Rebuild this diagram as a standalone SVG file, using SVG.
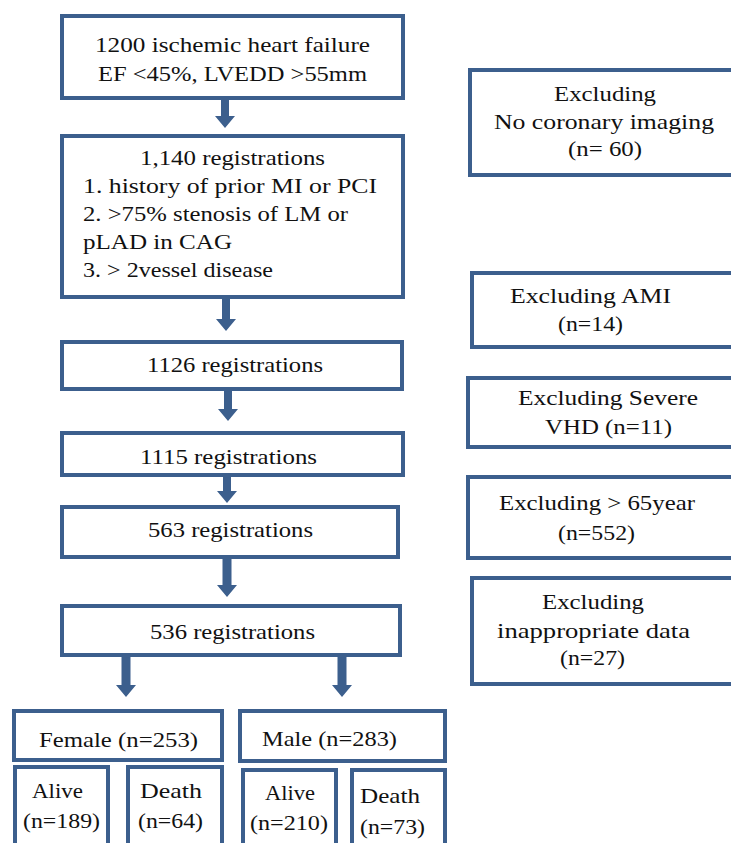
<svg xmlns="http://www.w3.org/2000/svg" width="731" height="843" viewBox="0 0 731 843">
<style>
.box{fill:#ffffff;stroke:#3c5f8d;stroke-width:4;}
.arr{fill:#3c5f8d;stroke:none;}
.t{font-family:'Liberation Serif','DejaVu Serif',serif;font-size:21px;fill:#111111;}
</style>
<rect width="731" height="843" fill="#ffffff"/>
<g id="connectors">
<path class="arr" d="M221,98 H229 V116 H235 L225,128 L215,116 H221 Z"/>
<path class="arr" d="M222,297 H230 V319 H236 L226,331 L216,319 H222 Z"/>
<path class="arr" d="M224,389 H232 V409 H238 L228,421 L218,409 H224 Z"/>
<path class="arr" d="M223,475 H231 V491 H237 L227,503 L217,491 H223 Z"/>
<path class="arr" d="M222.5,557 H231.5 V585 H237 L227,597 L217,585 H222.5 Z"/>
<path class="arr" d="M121.5,655 H130.5 V685 H136 L126,697 L116,685 H121.5 Z"/>
<path class="arr" d="M337.5,655 H346.5 V685 H352 L342,697 L332,685 H337.5 Z"/>
</g>
<g id="n1">
<rect class="box" x="62" y="16" width="341" height="82"/>
<text class="t" x="95" y="52" textLength="275" lengthAdjust="spacingAndGlyphs">1200 ischemic heart failure</text>
<text class="t" x="98" y="81" textLength="269" lengthAdjust="spacingAndGlyphs">EF &lt;45%, LVEDD &gt;55mm</text>
</g>
<g id="n2">
<rect class="box" x="62" y="136" width="341" height="161"/>
<text class="t" x="140" y="165" textLength="185" lengthAdjust="spacingAndGlyphs">1,140 registrations</text>
<text class="t" x="83" y="193" textLength="294" lengthAdjust="spacingAndGlyphs">1. history of prior MI or PCI</text>
<text class="t" x="83" y="221" textLength="265" lengthAdjust="spacingAndGlyphs">2. &gt;75% stenosis of LM or</text>
<text class="t" x="83" y="249" textLength="149" lengthAdjust="spacingAndGlyphs">pLAD in CAG</text>
<text class="t" x="83" y="277" textLength="190" lengthAdjust="spacingAndGlyphs">3. &gt; 2vessel disease</text>
</g>
<g id="n3">
<rect class="box" x="62" y="342" width="340" height="47"/>
<text class="t" x="147" y="372" textLength="176" lengthAdjust="spacingAndGlyphs">1126 registrations</text>
</g>
<g id="n4">
<rect class="box" x="62" y="433" width="341" height="42"/>
<text class="t" x="140" y="464" textLength="177" lengthAdjust="spacingAndGlyphs">1115 registrations</text>
</g>
<g id="n5">
<rect class="box" x="62" y="507" width="336" height="50"/>
<text class="t" x="148" y="537" textLength="165" lengthAdjust="spacingAndGlyphs">563 registrations</text>
</g>
<g id="n6">
<rect class="box" x="62" y="606" width="338" height="49"/>
<text class="t" x="150" y="639" textLength="165" lengthAdjust="spacingAndGlyphs">536 registrations</text>
</g>
<g id="female">
<rect class="box" x="14" y="711" width="208" height="49"/>
<text class="t" x="39" y="747" textLength="159" lengthAdjust="spacingAndGlyphs">Female (n=253)</text>
</g>
<g id="male">
<rect class="box" x="240" y="711" width="205" height="50"/>
<text class="t" x="262" y="746" textLength="135" lengthAdjust="spacingAndGlyphs">Male (n=283)</text>
</g>
<g id="female-alive">
<rect class="box" x="15" y="767" width="93" height="100"/>
<text class="t" x="32" y="798" textLength="51" lengthAdjust="spacingAndGlyphs">Alive</text>
<text class="t" x="23" y="828" textLength="77" lengthAdjust="spacingAndGlyphs">(n=189)</text>
</g>
<g id="female-death">
<rect class="box" x="128" y="767" width="94" height="100"/>
<text class="t" x="140" y="798" textLength="62" lengthAdjust="spacingAndGlyphs">Death</text>
<text class="t" x="138" y="828" textLength="65" lengthAdjust="spacingAndGlyphs">(n=64)</text>
</g>
<g id="male-alive">
<rect class="box" x="243" y="770" width="93" height="100"/>
<text class="t" x="265" y="800" textLength="50" lengthAdjust="spacingAndGlyphs">Alive</text>
<text class="t" x="250" y="830" textLength="78" lengthAdjust="spacingAndGlyphs">(n=210)</text>
</g>
<g id="male-death">
<rect class="box" x="352" y="770" width="93" height="100"/>
<text class="t" x="360" y="803" textLength="60" lengthAdjust="spacingAndGlyphs">Death</text>
<text class="t" x="360" y="834" textLength="65" lengthAdjust="spacingAndGlyphs">(n=73)</text>
</g>
<g id="ex1">
<rect class="box" x="470" y="70" width="280" height="105"/>
<text class="t" x="554" y="101" textLength="102" lengthAdjust="spacingAndGlyphs">Excluding</text>
<text class="t" x="494" y="129" textLength="220" lengthAdjust="spacingAndGlyphs">No coronary imaging</text>
<text class="t" x="568" y="156" textLength="74" lengthAdjust="spacingAndGlyphs">(n= 60)</text>
</g>
<g id="ex2">
<rect class="box" x="472" y="273" width="280" height="74"/>
<text class="t" x="510" y="303" textLength="161" lengthAdjust="spacingAndGlyphs">Excluding AMI</text>
<text class="t" x="558" y="331" textLength="65" lengthAdjust="spacingAndGlyphs">(n=14)</text>
</g>
<g id="ex3">
<rect class="box" x="468" y="378" width="280" height="69"/>
<text class="t" x="518" y="405" textLength="180" lengthAdjust="spacingAndGlyphs">Excluding Severe</text>
<text class="t" x="545" y="434" textLength="127" lengthAdjust="spacingAndGlyphs">VHD (n=11)</text>
</g>
<g id="ex4">
<rect class="box" x="468" y="477" width="280" height="81"/>
<text class="t" x="499" y="510" textLength="196" lengthAdjust="spacingAndGlyphs">Excluding &gt; 65year</text>
<text class="t" x="558" y="540" textLength="77" lengthAdjust="spacingAndGlyphs">(n=552)</text>
</g>
<g id="ex5">
<rect class="box" x="472" y="578" width="280" height="106"/>
<text class="t" x="542" y="609" textLength="102" lengthAdjust="spacingAndGlyphs">Excluding</text>
<text class="t" x="497" y="638" textLength="193" lengthAdjust="spacingAndGlyphs">inappropriate data</text>
<text class="t" x="560" y="665" textLength="65" lengthAdjust="spacingAndGlyphs">(n=27)</text>
</g>
</svg>
